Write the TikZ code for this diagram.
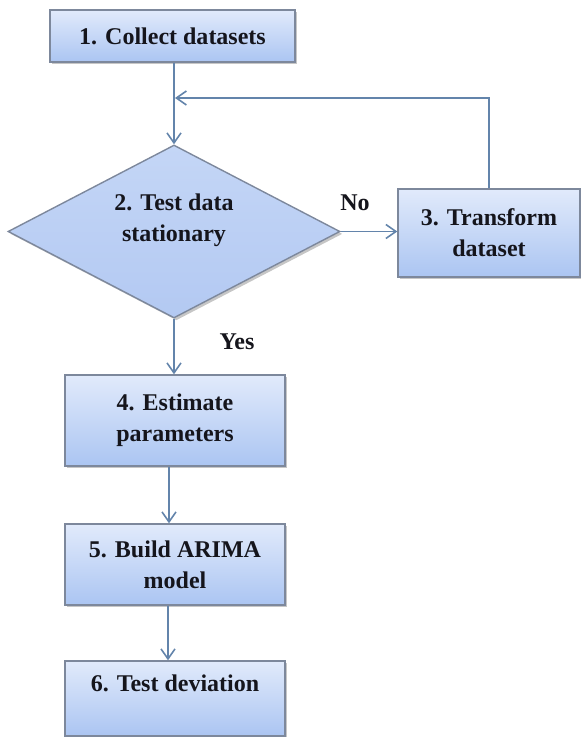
\documentclass[tikz,border=0pt]{standalone}
\usepackage{fontspec}
\setmainfont{Liberation Serif}
\usetikzlibrary{shapes.geometric,arrows.meta,shadows,calc}
\definecolor{edgec}{HTML}{7D889C}
\definecolor{arrc}{HTML}{6384AB}
\definecolor{topc}{HTML}{E1EAFB}
\definecolor{botc}{HTML}{ABC5F2}
\definecolor{dtop}{HTML}{C4D6F6}
\definecolor{dbot}{HTML}{B3C9F2}
\definecolor{txtc}{HTML}{15151C}
\begin{document}
\begin{tikzpicture}[x=0.5pt,y=-0.5pt,
  lbl/.style={font=\fontsize{12}{15.5}\selectfont\bfseries, text=txtc, align=center, inner sep=0pt},
  shad/.style={drop shadow={shadow xshift=1.2pt,shadow yshift=-1.2pt,fill=black!50,opacity=0.45}},
  stepbox/.style={lbl, draw=edgec, line width=0.7pt, top color=topc, bottom color=botc, shad},
  decision/.style={diamond, draw=edgec, line width=0.7pt, top color=dtop, bottom color=dbot, shad, inner sep=0pt, minimum width=166pt, minimum height=86.5pt},
  conn/.style={draw=arrc, line width=0.8pt, -{Straight Barb[length=5pt,width=7pt]}}]
\useasboundingbox (0,0) rectangle (581,737);
\node[stepbox, minimum width=122.5pt, minimum height=26pt] (b1) at (172.5,36) {1. Collect datasets};
\node[decision] (d) at (174,231.5) {};
\node[lbl] (dt) at (174,220) {2. Test data\\stationary};
\node[stepbox, minimum width=91pt, minimum height=44pt] (b3) at (489,233) {3. Transform\\dataset};
\node[stepbox, minimum width=110pt, minimum height=45.5pt] (b4) at (175,420.5) {4. Estimate\\parameters};
\node[stepbox, minimum width=110pt, minimum height=40.5pt] (b5) at (175,564.5) {5. Build ARIMA\\model};
\node[stepbox, minimum width=110pt, minimum height=37.5pt] (b6) at (175,698.5) {6. Test deviation\\\mbox{}};
\node[lbl] (no) at (355,203) {No};
\node[lbl] (yes) at (237,342) {Yes};
\coordinate (fb) at (175,98);
\draw[conn] (b1.south -| d.north) -- (d.north);
\draw[conn] (b3.north) |- (fb);
\draw[conn] (d.east) -- (d.east -| b3.west);
\draw[conn] (d.south) -- (d.south |- b4.north);
\draw[conn] ($(b4.south)+(-6,0)$) -- ($(b5.north)+(-6,0)$);
\draw[conn] ($(b5.south)+(-7,0)$) -- ($(b6.north)+(-7,0)$);
\end{tikzpicture}
\end{document}
